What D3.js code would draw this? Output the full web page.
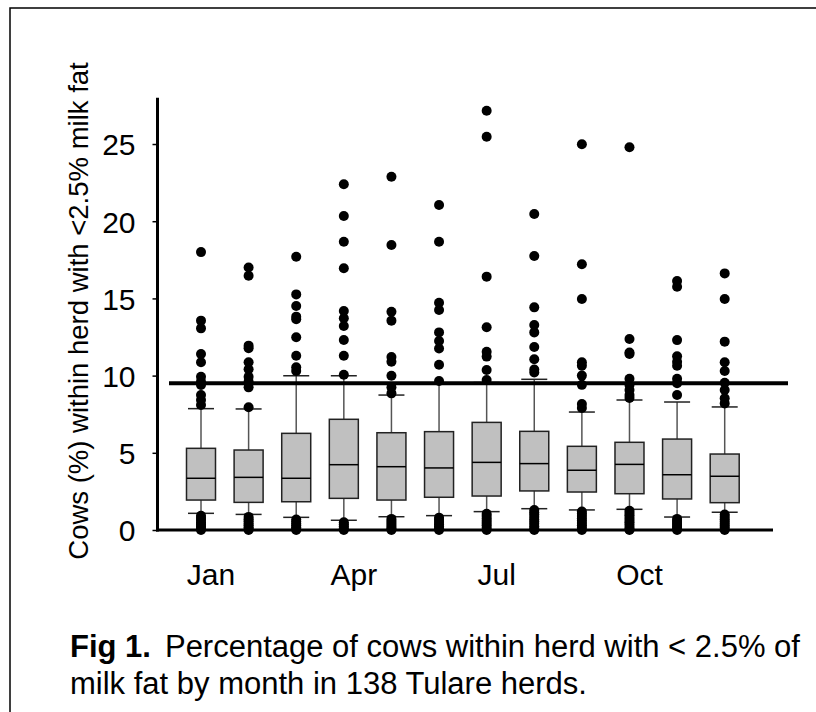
<!DOCTYPE html>
<html>
<head>
<meta charset="utf-8">
<script src="https://cdn.jsdelivr.net/npm/d3@7"></script>
<style>
  body { margin: 0; background: #fff; }
  text { font-family: Arial, "Liberation Sans", Helvetica, sans-serif; fill: #000; }
</style>
</head>
<body>
<div id="chart-container"></div>
<script>
const months = ["Jan", "Feb", "Mar", "Apr", "May", "Jun", "Jul", "Aug", "Sep", "Oct", "Nov", "Dec"];
const labelMonths = ["Jan", "Apr", "Jul", "Oct"];
const yTicks = [0, 5, 10, 15, 20, 25];

const q1 = [1.94, 1.79, 1.83, 2.05, 1.94, 2.12, 2.20, 2.53, 2.46, 2.35, 2.01, 1.77];
const medians = [3.35, 3.41, 3.35, 4.23, 4.10, 4.02, 4.38, 4.30, 3.87, 4.25, 3.58, 3.48];
const q3 = [5.29, 5.18, 6.26, 7.17, 6.30, 6.37, 6.97, 6.39, 5.42, 5.68, 5.89, 4.92];
const whiskLow = [1.08, 1.01, 0.82, 0.63, 0.86, 0.93, 1.19, 1.38, 1.30, 1.34, 0.84, 1.15];
const whiskHigh = [7.86, 7.84, 9.99, 9.99, 8.74, 9.45, 9.55, 9.76, 7.64, 8.42, 8.29, 7.97];

const highOutliers = [
  [18.0, 13.56, 13.06, 11.4, 10.86, 9.93, 9.61, 9.39, 8.74, 8.42, 8.1],
  [17.0, 16.47, 11.94, 11.77, 10.86, 10.41, 9.93, 9.61, 9.24, 7.95],
  [17.7, 15.26, 14.51, 13.82, 13.65, 12.48, 11.29, 10.54, 10.3],
  [22.39, 20.34, 18.67, 16.95, 14.18, 13.71, 13.21, 12.31, 11.29, 10.05],
  [22.88, 18.46, 14.14, 13.56, 11.2, 10.9, 9.99, 9.24, 8.85],
  [21.05, 18.67, 14.72, 14.25, 12.8, 12.24, 11.75, 10.7, 9.65],
  [27.16, 25.47, 16.41, 13.13, 11.55, 11.23, 10.36, 9.72],
  [20.47, 17.75, 14.42, 13.28, 12.8, 11.85, 11.06, 10.4, 10.2],
  [24.98, 17.21, 14.96, 10.86, 10.64, 10.0, 9.4, 8.16, 7.9],
  [24.79, 12.37, 11.5, 11.4, 9.8, 9.39, 9.07, 8.74, 8.55],
  [16.13, 15.76, 12.3, 11.25, 10.9, 10.64, 9.8, 9.5, 8.74],
  [16.62, 14.96, 12.2, 10.86, 10.3, 9.54, 9.07, 8.53, 8.2]
];
const lowOutliers = [
  [0.92, 0.78, 0.64, 0.5, 0.38, 0.25, 0.12, 0],
  [0.85, 0.7, 0.56, 0.42, 0.3, 0.18, 0.06, 0],
  [0.68, 0.55, 0.42, 0.3, 0.18, 0.08, 0],
  [0.5, 0.38, 0.25, 0.12, 0],
  [0.72, 0.58, 0.45, 0.32, 0.2, 0.08, 0],
  [0.8, 0.66, 0.52, 0.38, 0.25, 0.12, 0],
  [1.05, 0.9, 0.75, 0.6, 0.45, 0.3, 0.15, 0],
  [1.3, 1.15, 1.0, 0.85, 0.7, 0.55, 0.4, 0.25, 0.1, 0],
  [1.2, 1.05, 0.9, 0.75, 0.6, 0.45, 0.3, 0.15, 0],
  [1.25, 1.1, 0.95, 0.8, 0.65, 0.5, 0.35, 0.2, 0.05, 0],
  [0.72, 0.58, 0.45, 0.32, 0.2, 0.08, 0],
  [1.0, 0.85, 0.7, 0.55, 0.4, 0.28, 0.15, 0]
];
const threshold = 9.5;

const yTitle = "Cows (%) within herd with <2.5% milk fat";
const captionBold = "Fig 1.";
const captionLine1 = "Percentage of cows within herd with < 2.5% of";
const captionLine2 = "milk fat by month in 138 Tulare herds.";

class BoxChart {
  constructor(container) {
    this.width = 816;
    this.height = 712;
    this.left = 157.5;
    this.right = 773;
    this.top = 97.7;
    this.bottom = 530;
    this.svg = d3.select(container).append("svg").attr("width", this.width).attr("height", this.height);

    this.x = d3.scalePoint().domain(months).range([this.left + 43.5, this.right - 48.3]);
    this.y = d3.scaleLinear().domain([0, 28]).range([this.bottom, this.top]);

    this.drawFrame();
    this.drawBoxes();
    this.drawOutliers();
    this.drawThreshold();
    this.drawAxes();
    this.drawCaption();
  }

  drawFrame() {
    this.svg.append("rect").attr("x", 10).attr("y", 8).
    attr("width", 900).attr("height", 900).
    attr("fill", "none").attr("stroke", "#000").attr("stroke-width", 1.5);
  }

  drawBoxes() {
    const boxW = 29, capW = 26;
    const g = this.svg.append("g");
    const rows = months.map((m, i) => ({ m, lo: whiskLow[i], q1: q1[i], med: medians[i], q3: q3[i], hi: whiskHigh[i] }));
    const item = g.selectAll("g.box").data(rows).enter().append("g").attr("class", "box");

    item.append("line").attr("x1", d => this.x(d.m)).attr("x2", d => this.x(d.m)).
    attr("y1", d => this.y(d.lo)).attr("y2", d => this.y(d.hi)).
    attr("stroke", "#555").attr("stroke-width", 1.5);

    ["lo", "hi"].forEach(k => {
      item.append("line").attr("x1", d => this.x(d.m) - capW / 2).attr("x2", d => this.x(d.m) + capW / 2).
      attr("y1", d => this.y(d[k])).attr("y2", d => this.y(d[k])).
      attr("stroke", "#222").attr("stroke-width", 1.5);
    });

    item.append("rect").attr("x", d => this.x(d.m) - boxW / 2).attr("width", boxW).
    attr("y", d => this.y(d.q3)).attr("height", d => this.y(d.q1) - this.y(d.q3)).
    attr("fill", "#c0c0c0").attr("stroke", "#222").attr("stroke-width", 1.5);

    item.append("line").attr("x1", d => this.x(d.m) - boxW / 2).attr("x2", d => this.x(d.m) + boxW / 2).
    attr("y1", d => this.y(d.med)).attr("y2", d => this.y(d.med)).
    attr("stroke", "#000").attr("stroke-width", 1.5);
  }

  drawOutliers() {
    const pts = [];
    months.forEach((m, i) => {
      highOutliers[i].forEach(v => pts.push({ m, v }));
      lowOutliers[i].forEach(v => pts.push({ m, v }));
    });
    this.svg.append("g").selectAll("circle").data(pts).enter().append("circle").
    attr("cx", d => this.x(d.m)).attr("cy", d => this.y(d.v)).attr("r", 5).attr("fill", "#000");
  }

  drawThreshold() {
    this.svg.append("line").attr("x1", this.left + 11.5).attr("x2", this.right + 15).
    attr("y1", this.y(threshold)).attr("y2", this.y(threshold)).
    attr("stroke", "#000").attr("stroke-width", 4);
  }

  drawAxes() {
    const yAxis = d3.axisLeft(this.y).tickValues(yTicks).tickSize(5).tickPadding(17);
    const ga = this.svg.append("g").attr("transform", `translate(${this.left}, 0)`).call(yAxis);
    ga.select(".domain").remove();
    ga.selectAll(".tick line").attr("stroke", "#000").attr("stroke-width", 1.5);
    ga.selectAll(".tick text").style("font-size", "30px").attr("dy", "0.36em");

    this.svg.append("line").attr("x1", this.left).attr("x2", this.left).
    attr("y1", this.top).attr("y2", this.bottom + 1.5).attr("stroke", "#000").attr("stroke-width", 3);
    this.svg.append("line").attr("x1", this.left - 1.5).attr("x2", this.right).
    attr("y1", this.bottom).attr("y2", this.bottom).attr("stroke", "#000").attr("stroke-width", 3);

    this.svg.append("g").selectAll("text").data(labelMonths).enter().append("text").
    attr("x", d => this.x(d) + 10).attr("y", 585).attr("text-anchor", "middle").
    style("font-size", "30px").text(d => d);

    this.svg.append("text").text(yTitle).
    attr("text-anchor", "middle").attr("transform", "rotate(-90)").
    attr("x", -(65 + 557) / 2).attr("y", 88).style("font-size", "27.5px");
  }

  drawCaption() {
    const t1 = this.svg.append("text").attr("x", 70).attr("y", 657).style("font-size", "31px");
    t1.append("tspan").style("font-weight", "bold").text(captionBold);
    t1.append("tspan").attr("dx", 14).text(captionLine1);
    this.svg.append("text").attr("x", 70).attr("y", 694).style("font-size", "31px").text(captionLine2);
  }
}

new BoxChart("#chart-container");
</script>
</body>
</html>
